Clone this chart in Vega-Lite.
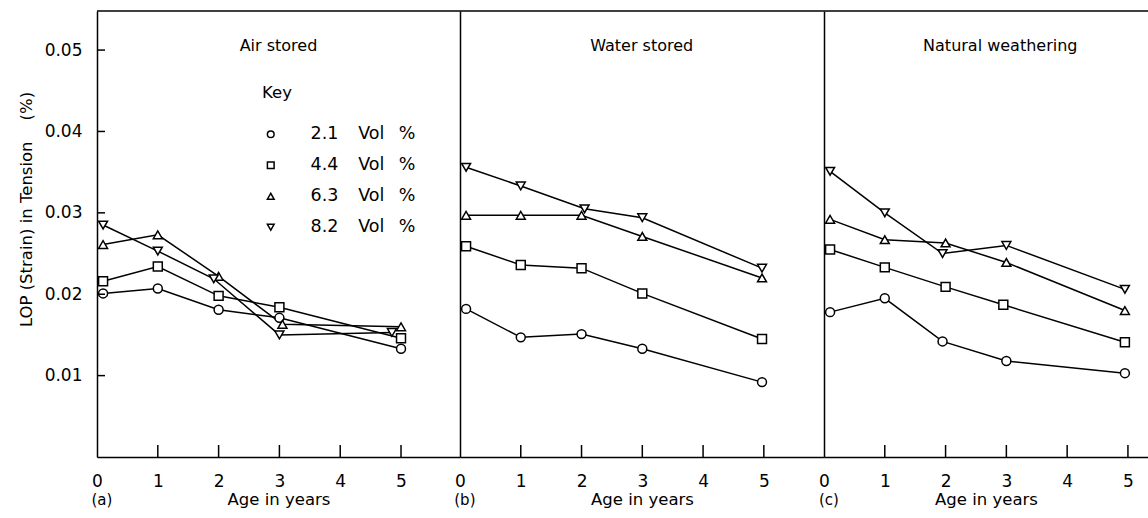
{
  "$schema": "https://vega.github.io/schema/vega-lite/v6.json",
  "padding": {"left": 18, "top": 10, "right": 0, "bottom": 0},
  "spacing": 0,
  "bounds": "flush",
  "config": {
    "font": "DejaVu Sans",
    "view": {"stroke": null, "fill": null},
    "axis": {"domainColor": "black", "domainWidth": 1.5, "labelColor": "black", "titleColor": "black", "titleFontWeight": "normal", "labelFlush": false, "labelOverlap": false, "grid": false, "ticks": false, "tickSize": 0},
    "axisX": {"labelPadding": 16, "labelFontSize": 17, "titleFontSize": 16.5, "titlePadding": 2},
    "rule": {"color": "black", "strokeWidth": 1.5},
    "legend": {"labelColor": "black", "titleColor": "black"},
    "text": {"color": "black"}
  },
  "datasets": {
    "pts": [
      {"panel": "a", "vol": "2.1", "age": 0.1, "lop": 0.0201},
      {"panel": "a", "vol": "2.1", "age": 1, "lop": 0.0207},
      {"panel": "a", "vol": "2.1", "age": 2, "lop": 0.0181},
      {"panel": "a", "vol": "2.1", "age": 3, "lop": 0.0171},
      {"panel": "a", "vol": "2.1", "age": 5, "lop": 0.0133},
      {"panel": "a", "vol": "4.4", "age": 0.1, "lop": 0.0216},
      {"panel": "a", "vol": "4.4", "age": 1, "lop": 0.0234},
      {"panel": "a", "vol": "4.4", "age": 2, "lop": 0.0198},
      {"panel": "a", "vol": "4.4", "age": 3, "lop": 0.0184},
      {"panel": "a", "vol": "4.4", "age": 5, "lop": 0.0146},
      {"panel": "a", "vol": "6.3", "age": 0.1, "lop": 0.0261},
      {"panel": "a", "vol": "6.3", "age": 1, "lop": 0.0273},
      {"panel": "a", "vol": "6.3", "age": 2, "lop": 0.0222},
      {"panel": "a", "vol": "6.3", "age": 3.05, "lop": 0.0163},
      {"panel": "a", "vol": "6.3", "age": 5, "lop": 0.0160},
      {"panel": "a", "vol": "8.2", "age": 0.1, "lop": 0.0285},
      {"panel": "a", "vol": "8.2", "age": 1, "lop": 0.0253},
      {"panel": "a", "vol": "8.2", "age": 1.92, "lop": 0.0219},
      {"panel": "a", "vol": "8.2", "age": 3, "lop": 0.0150},
      {"panel": "a", "vol": "8.2", "age": 4.85, "lop": 0.0153},
      {"panel": "b", "vol": "2.1", "age": 0.1, "lop": 0.0182},
      {"panel": "b", "vol": "2.1", "age": 1, "lop": 0.0147},
      {"panel": "b", "vol": "2.1", "age": 2, "lop": 0.0151},
      {"panel": "b", "vol": "2.1", "age": 3, "lop": 0.0133},
      {"panel": "b", "vol": "2.1", "age": 4.97, "lop": 0.0092},
      {"panel": "b", "vol": "4.4", "age": 0.1, "lop": 0.0259},
      {"panel": "b", "vol": "4.4", "age": 1, "lop": 0.0236},
      {"panel": "b", "vol": "4.4", "age": 2, "lop": 0.0232},
      {"panel": "b", "vol": "4.4", "age": 3, "lop": 0.0201},
      {"panel": "b", "vol": "4.4", "age": 4.97, "lop": 0.0145},
      {"panel": "b", "vol": "6.3", "age": 0.1, "lop": 0.0297},
      {"panel": "b", "vol": "6.3", "age": 1, "lop": 0.0297},
      {"panel": "b", "vol": "6.3", "age": 2, "lop": 0.0297},
      {"panel": "b", "vol": "6.3", "age": 3, "lop": 0.0271},
      {"panel": "b", "vol": "6.3", "age": 4.97, "lop": 0.0220},
      {"panel": "b", "vol": "8.2", "age": 0.1, "lop": 0.0356},
      {"panel": "b", "vol": "8.2", "age": 1, "lop": 0.0333},
      {"panel": "b", "vol": "8.2", "age": 2.05, "lop": 0.0305},
      {"panel": "b", "vol": "8.2", "age": 3, "lop": 0.0294},
      {"panel": "b", "vol": "8.2", "age": 4.97, "lop": 0.0232},
      {"panel": "c", "vol": "2.1", "age": 0.1, "lop": 0.0178},
      {"panel": "c", "vol": "2.1", "age": 1, "lop": 0.0195},
      {"panel": "c", "vol": "2.1", "age": 1.95, "lop": 0.0142},
      {"panel": "c", "vol": "2.1", "age": 3, "lop": 0.0118},
      {"panel": "c", "vol": "2.1", "age": 4.95, "lop": 0.0103},
      {"panel": "c", "vol": "4.4", "age": 0.1, "lop": 0.0255},
      {"panel": "c", "vol": "4.4", "age": 1, "lop": 0.0233},
      {"panel": "c", "vol": "4.4", "age": 2, "lop": 0.0209},
      {"panel": "c", "vol": "4.4", "age": 2.95, "lop": 0.0187},
      {"panel": "c", "vol": "4.4", "age": 4.95, "lop": 0.0141},
      {"panel": "c", "vol": "6.3", "age": 0.1, "lop": 0.0292},
      {"panel": "c", "vol": "6.3", "age": 1, "lop": 0.0267},
      {"panel": "c", "vol": "6.3", "age": 2, "lop": 0.0263},
      {"panel": "c", "vol": "6.3", "age": 3, "lop": 0.0239},
      {"panel": "c", "vol": "6.3", "age": 4.95, "lop": 0.0180},
      {"panel": "c", "vol": "8.2", "age": 0.1, "lop": 0.0351},
      {"panel": "c", "vol": "8.2", "age": 1, "lop": 0.0300},
      {"panel": "c", "vol": "8.2", "age": 1.95, "lop": 0.0250},
      {"panel": "c", "vol": "8.2", "age": 3, "lop": 0.0260},
      {"panel": "c", "vol": "8.2", "age": 4.95, "lop": 0.0206}
    ],
    "panels": [
      {"panel": "a", "title": "Air stored", "tag": "(a)"},
      {"panel": "b", "title": "Water stored", "tag": "(b)"},
      {"panel": "c", "title": "Natural weathering", "tag": "(c)"}
    ]
  },
  "hconcat": [
    {
      "width": 363,
      "height": 446,
      "layer": [
        {
          "data": {"name": "pts"},
          "transform": [{"filter": "datum.panel === 'a'"}],
          "mark": {"type": "line", "color": "black", "strokeWidth": 1.5},
          "encoding": {
            "x": {"field": "age", "type": "quantitative", "scale": {"domain": [0, 5.97], "nice": false, "zero": false},
                  "axis": {"title": "Age in years", "values": [0, 1, 2, 3, 4, 5], "format": "d"}},
            "y": {"field": "lop", "type": "quantitative", "scale": {"domain": [0, 0.0548], "nice": false},
                  "axis": {"values": [0.01, 0.02, 0.03, 0.04, 0.05], "format": ".2f", "labelPadding": 15, "labelFontSize": 17, "title": "LOP (Strain) in Tension\u00a0\u00a0\u00a0\u00a0(%)", "titleFontSize": 16.5, "titlePadding": 10, "titleY": 198}},
            "detail": {"field": "vol"}
          }
        },
        {
          "data": {"name": "pts"},
          "transform": [{"filter": "datum.panel === 'a'"}],
          "mark": {"type": "point", "filled": false, "color": "black", "fill": "white", "strokeWidth": 1.5, "size": 80, "opacity": 1},
          "encoding": {
            "x": {"field": "age", "type": "quantitative"},
            "y": {"field": "lop", "type": "quantitative"},
            "shape": {"field": "vol", "type": "nominal",
                      "scale": {"domain": ["2.1", "4.4", "6.3", "8.2"], "range": ["circle", "square", "triangle-up", "triangle-down"]},
                      "legend": {"title": "Key", "orient": "none", "legendX": 165, "legendY": 74, "padding": 0, "titleFontSize": 16.5, "titleFontWeight": "normal", "titlePadding": 24, "labelFontSize": 17.5, "symbolSize": 45, "symbolStrokeWidth": 1.5, "rowPadding": 12, "labelOffset": 31, "labelExpr": "datum.label + '\u2002\u00a0\u00a0Vol\u2002\u00a0%'"}}
          }
        },
        {
          "data": {"name": "panels"},
          "transform": [{"filter": "datum.panel === 'a'"}],
          "mark": {"type": "text", "fontSize": 16, "baseline": "middle", "align": "center"},
          "encoding": {"x": {"datum": 2.985, "type": "quantitative"}, "y": {"datum": 0.0505, "type": "quantitative"}, "text": {"field": "title"}}
        },
        {
          "data": {"name": "panels"},
          "transform": [{"filter": "datum.panel === 'a'"}],
          "mark": {"type": "text", "fontSize": 15, "baseline": "middle", "align": "center"},
          "encoding": {"x": {"datum": 0.08, "type": "quantitative"}, "y": {"datum": -0.0053, "type": "quantitative"}, "text": {"field": "tag"}}
        },
        {"data": {"name": "panels"}, "transform": [{"filter": "datum.panel === 'a'"}], "mark": "rule", "encoding": {"y": {"datum": 0.0548, "type": "quantitative"}}},
        {"data": {"name": "panels"}, "transform": [{"filter": "datum.panel === 'a'"}], "mark": "rule", "encoding": {"x": {"datum": 1, "type": "quantitative"}, "y": {"datum": 0, "type": "quantitative"}, "y2": {"datum": 0.001474}}},
        {"data": {"name": "panels"}, "transform": [{"filter": "datum.panel === 'a'"}], "mark": "rule", "encoding": {"x": {"datum": 2, "type": "quantitative"}, "y": {"datum": 0, "type": "quantitative"}, "y2": {"datum": 0.001474}}},
        {"data": {"name": "panels"}, "transform": [{"filter": "datum.panel === 'a'"}], "mark": "rule", "encoding": {"x": {"datum": 3, "type": "quantitative"}, "y": {"datum": 0, "type": "quantitative"}, "y2": {"datum": 0.001474}}},
        {"data": {"name": "panels"}, "transform": [{"filter": "datum.panel === 'a'"}], "mark": "rule", "encoding": {"x": {"datum": 4, "type": "quantitative"}, "y": {"datum": 0, "type": "quantitative"}, "y2": {"datum": 0.001474}}},
        {"data": {"name": "panels"}, "transform": [{"filter": "datum.panel === 'a'"}], "mark": "rule", "encoding": {"x": {"datum": 5, "type": "quantitative"}, "y": {"datum": 0, "type": "quantitative"}, "y2": {"datum": 0.001474}}},
        {"data": {"name": "panels"}, "transform": [{"filter": "datum.panel === 'a'"}], "mark": "rule", "encoding": {"y": {"datum": 0.01, "type": "quantitative"}, "x": {"datum": 0, "type": "quantitative"}, "x2": {"datum": 0.1316}}},
        {"data": {"name": "panels"}, "transform": [{"filter": "datum.panel === 'a'"}], "mark": "rule", "encoding": {"y": {"datum": 0.02, "type": "quantitative"}, "x": {"datum": 0, "type": "quantitative"}, "x2": {"datum": 0.1316}}},
        {"data": {"name": "panels"}, "transform": [{"filter": "datum.panel === 'a'"}], "mark": "rule", "encoding": {"y": {"datum": 0.03, "type": "quantitative"}, "x": {"datum": 0, "type": "quantitative"}, "x2": {"datum": 0.1316}}},
        {"data": {"name": "panels"}, "transform": [{"filter": "datum.panel === 'a'"}], "mark": "rule", "encoding": {"y": {"datum": 0.04, "type": "quantitative"}, "x": {"datum": 0, "type": "quantitative"}, "x2": {"datum": 0.1316}}},
        {"data": {"name": "panels"}, "transform": [{"filter": "datum.panel === 'a'"}], "mark": "rule", "encoding": {"y": {"datum": 0.05, "type": "quantitative"}, "x": {"datum": 0, "type": "quantitative"}, "x2": {"datum": 0.1316}}}
      ]
    },
    {
      "width": 364,
      "height": 446,
      "layer": [
        {
          "data": {"name": "pts"},
          "transform": [{"filter": "datum.panel === 'b'"}],
          "mark": {"type": "line", "color": "black", "strokeWidth": 1.5},
          "encoding": {
            "x": {"field": "age", "type": "quantitative", "scale": {"domain": [0, 5.99], "nice": false, "zero": false},
                  "axis": {"title": "Age in years", "values": [0, 1, 2, 3, 4, 5], "format": "d"}},
            "y": {"field": "lop", "type": "quantitative", "scale": {"domain": [0, 0.0548], "nice": false},
                  "axis": {"labels": false, "title": null}},
            "detail": {"field": "vol"}
          }
        },
        {
          "data": {"name": "pts"},
          "transform": [{"filter": "datum.panel === 'b'"}],
          "mark": {"type": "point", "filled": false, "color": "black", "fill": "white", "strokeWidth": 1.5, "size": 80, "opacity": 1},
          "encoding": {
            "x": {"field": "age", "type": "quantitative"},
            "y": {"field": "lop", "type": "quantitative"},
            "shape": {"field": "vol", "type": "nominal",
                      "scale": {"domain": ["2.1", "4.4", "6.3", "8.2"], "range": ["circle", "square", "triangle-up", "triangle-down"]},
                      "legend": null}
          }
        },
        {
          "data": {"name": "panels"},
          "transform": [{"filter": "datum.panel === 'b'"}],
          "mark": {"type": "text", "fontSize": 16, "baseline": "middle", "align": "center"},
          "encoding": {"x": {"datum": 2.99, "type": "quantitative"}, "y": {"datum": 0.0505, "type": "quantitative"}, "text": {"field": "title"}}
        },
        {
          "data": {"name": "panels"},
          "transform": [{"filter": "datum.panel === 'b'"}],
          "mark": {"type": "text", "fontSize": 15, "baseline": "middle", "align": "center"},
          "encoding": {"x": {"datum": 0.08, "type": "quantitative"}, "y": {"datum": -0.0053, "type": "quantitative"}, "text": {"field": "tag"}}
        },
        {"data": {"name": "panels"}, "transform": [{"filter": "datum.panel === 'b'"}], "mark": "rule", "encoding": {"y": {"datum": 0.0548, "type": "quantitative"}}},
        {"data": {"name": "panels"}, "transform": [{"filter": "datum.panel === 'b'"}], "mark": "rule", "encoding": {"x": {"datum": 1, "type": "quantitative"}, "y": {"datum": 0, "type": "quantitative"}, "y2": {"datum": 0.001474}}},
        {"data": {"name": "panels"}, "transform": [{"filter": "datum.panel === 'b'"}], "mark": "rule", "encoding": {"x": {"datum": 2, "type": "quantitative"}, "y": {"datum": 0, "type": "quantitative"}, "y2": {"datum": 0.001474}}},
        {"data": {"name": "panels"}, "transform": [{"filter": "datum.panel === 'b'"}], "mark": "rule", "encoding": {"x": {"datum": 3, "type": "quantitative"}, "y": {"datum": 0, "type": "quantitative"}, "y2": {"datum": 0.001474}}},
        {"data": {"name": "panels"}, "transform": [{"filter": "datum.panel === 'b'"}], "mark": "rule", "encoding": {"x": {"datum": 4, "type": "quantitative"}, "y": {"datum": 0, "type": "quantitative"}, "y2": {"datum": 0.001474}}},
        {"data": {"name": "panels"}, "transform": [{"filter": "datum.panel === 'b'"}], "mark": "rule", "encoding": {"x": {"datum": 5, "type": "quantitative"}, "y": {"datum": 0, "type": "quantitative"}, "y2": {"datum": 0.001474}}}
      ]
    },
    {
      "width": 324,
      "height": 446,
      "layer": [
        {
          "data": {"name": "pts"},
          "transform": [{"filter": "datum.panel === 'c'"}],
          "mark": {"type": "line", "color": "black", "strokeWidth": 1.5},
          "encoding": {
            "x": {"field": "age", "type": "quantitative", "scale": {"domain": [0, 5.33], "nice": false, "zero": false},
                  "axis": {"title": "Age in years", "values": [0, 1, 2, 3, 4, 5], "format": "d"}},
            "y": {"field": "lop", "type": "quantitative", "scale": {"domain": [0, 0.0548], "nice": false},
                  "axis": {"labels": false, "title": null}},
            "detail": {"field": "vol"}
          }
        },
        {
          "data": {"name": "pts"},
          "transform": [{"filter": "datum.panel === 'c'"}],
          "mark": {"type": "point", "filled": false, "color": "black", "fill": "white", "strokeWidth": 1.5, "size": 80, "opacity": 1},
          "encoding": {
            "x": {"field": "age", "type": "quantitative"},
            "y": {"field": "lop", "type": "quantitative"},
            "shape": {"field": "vol", "type": "nominal",
                      "scale": {"domain": ["2.1", "4.4", "6.3", "8.2"], "range": ["circle", "square", "triangle-up", "triangle-down"]},
                      "legend": null}
          }
        },
        {
          "data": {"name": "panels"},
          "transform": [{"filter": "datum.panel === 'c'"}],
          "mark": {"type": "text", "fontSize": 16, "baseline": "middle", "align": "center"},
          "encoding": {"x": {"datum": 2.9, "type": "quantitative"}, "y": {"datum": 0.0505, "type": "quantitative"}, "text": {"field": "title"}}
        },
        {
          "data": {"name": "panels"},
          "transform": [{"filter": "datum.panel === 'c'"}],
          "mark": {"type": "text", "fontSize": 15, "baseline": "middle", "align": "center"},
          "encoding": {"x": {"datum": 0.08, "type": "quantitative"}, "y": {"datum": -0.0053, "type": "quantitative"}, "text": {"field": "tag"}}
        },
        {"data": {"name": "panels"}, "transform": [{"filter": "datum.panel === 'c'"}], "mark": "rule", "encoding": {"y": {"datum": 0.0548, "type": "quantitative"}}},
        {"data": {"name": "panels"}, "transform": [{"filter": "datum.panel === 'c'"}], "mark": "rule", "encoding": {"x": {"datum": 1, "type": "quantitative"}, "y": {"datum": 0, "type": "quantitative"}, "y2": {"datum": 0.001474}}},
        {"data": {"name": "panels"}, "transform": [{"filter": "datum.panel === 'c'"}], "mark": "rule", "encoding": {"x": {"datum": 2, "type": "quantitative"}, "y": {"datum": 0, "type": "quantitative"}, "y2": {"datum": 0.001474}}},
        {"data": {"name": "panels"}, "transform": [{"filter": "datum.panel === 'c'"}], "mark": "rule", "encoding": {"x": {"datum": 3, "type": "quantitative"}, "y": {"datum": 0, "type": "quantitative"}, "y2": {"datum": 0.001474}}},
        {"data": {"name": "panels"}, "transform": [{"filter": "datum.panel === 'c'"}], "mark": "rule", "encoding": {"x": {"datum": 4, "type": "quantitative"}, "y": {"datum": 0, "type": "quantitative"}, "y2": {"datum": 0.001474}}},
        {"data": {"name": "panels"}, "transform": [{"filter": "datum.panel === 'c'"}], "mark": "rule", "encoding": {"x": {"datum": 5, "type": "quantitative"}, "y": {"datum": 0, "type": "quantitative"}, "y2": {"datum": 0.001474}}}
      ]
    }
  ]
}
